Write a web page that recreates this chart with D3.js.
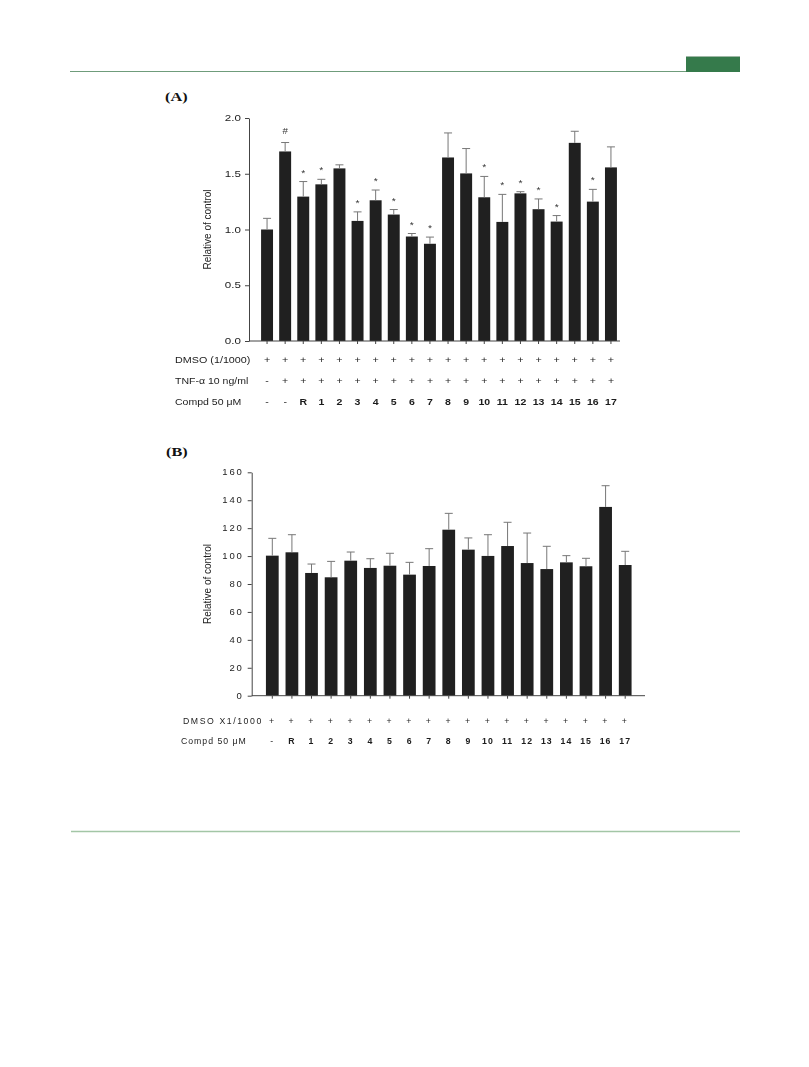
<!DOCTYPE html>
<html>
<head>
<meta charset="utf-8">
<script src="https://cdn.jsdelivr.net/npm/d3@7"></script>
<style>
  body { margin: 0; background: #fff; }
  svg { display: block; }
  .panel { filter: grayscale(100%); }
</style>
</head>
<body>
<script>
// ---- Panel A: TNF-α induced response, relative to control ----
const compdA = ["-", "-", "R", "1", "2", "3", "4", "5", "6", "7", "8", "9", "10", "11", "12", "13", "14", "15", "16", "17"];
const dmsoA  = ["+", "+", "+", "+", "+", "+", "+", "+", "+", "+", "+", "+", "+", "+", "+", "+", "+", "+", "+", "+"];
const tnfA   = ["-", "+", "+", "+", "+", "+", "+", "+", "+", "+", "+", "+", "+", "+", "+", "+", "+", "+", "+", "+"];
const meanA  = [1.00, 1.70, 1.295, 1.405, 1.548, 1.077, 1.262, 1.134, 0.937, 0.872, 1.646, 1.503, 1.289, 1.068, 1.324, 1.182, 1.071, 1.777, 1.250, 1.557];
const upperA = [1.10, 1.78, 1.430, 1.450, 1.580, 1.158, 1.354, 1.179, 0.964, 0.932, 1.866, 1.726, 1.476, 1.315, 1.339, 1.274, 1.125, 1.881, 1.360, 1.741];
const markA  = ["", "#", "*", "*", "", "*", "*", "*", "*", "*", "", "", "*", "*", "*", "*", "*", "", "*", ""];
const ticksA = [0, 0.5, 1.0, 1.5, 2.0];

// ---- Panel B: cell viability, relative to control (%) ----
const compdB = ["-", "R", "1", "2", "3", "4", "5", "6", "7", "8", "9", "10", "11", "12", "13", "14", "15", "16", "17"];
const dmsoB  = ["+", "+", "+", "+", "+", "+", "+", "+", "+", "+", "+", "+", "+", "+", "+", "+", "+", "+", "+"];
const meanB  = [100.3, 102.7, 87.9, 84.8, 96.7, 91.5, 93.1, 86.7, 92.9, 118.9, 104.6, 100.1, 107.2, 95.0, 90.7, 95.5, 92.7, 135.2, 93.6];
const upperB = [112.7, 115.3, 94.3, 96.2, 102.9, 98.1, 102.0, 95.5, 105.3, 130.6, 113.0, 115.3, 124.2, 116.5, 107.0, 100.3, 98.4, 150.4, 103.4];
const ticksB = [0, 20, 40, 60, 80, 100, 120, 140, 160];

const W = 809, H = 1067;
const SANS = "Liberation Sans, Arial, sans-serif";
const SERIF = "Liberation Serif, Times New Roman, serif";
const BAR = "#231f20", AXIS = "#444", TXT = "#1c1c1c", ERR = "#777";

const svg = d3.select("body").append("svg").attr("width", W).attr("height", H);

// page furniture: header rule with tab, footer rule
svg.append("line").attr("x1", 70).attr("x2", 686).attr("y1", 71.5).attr("y2", 71.5)
  .attr("stroke", "#6f9c7b").attr("stroke-width", 1);
svg.append("rect").attr("x", 686).attr("y", 56).attr("width", 54).attr("height", 16)
  .attr("fill", "#357a4b");
svg.append("line").attr("x1", 686).attr("x2", 740).attr("y1", 56.5).attr("y2", 56.5)
  .attr("stroke", "#9fb8a6").attr("stroke-width", 1);
svg.append("line").attr("x1", 71).attr("x2", 740).attr("y1", 831.5).attr("y2", 831.5)
  .attr("stroke", "#a3c6a6").attr("stroke-width", 1.5);

// wide text helper: glyphs stretched horizontally
function wtext(g, x, y, str, o = {}) {
  return g.append("text")
    .attr("transform", `translate(${x},${y}) scale(${o.sx || 1.32},1)`)
    .attr("text-anchor", o.anchor || "start")
    .style("font-family", o.family || SANS)
    .attr("font-size", o.size || 8)
    .attr("font-weight", o.weight || "normal")
    .attr("letter-spacing", o.ls || 0)
    .attr("fill", o.fill || TXT)
    .text(str);
}

function panel(cfg) {
  const g = svg.append("g").attr("class", "panel");
  const x = d3.scaleBand().domain(cfg.compd.map((d, i) => i))
    .range(cfg.xRange).paddingInner(cfg.pad).paddingOuter(cfg.pad / 2);
  const y = d3.scaleLinear().domain([0, cfg.max]).range(cfg.yRange);
  const cx = i => x(i) + x.bandwidth() / 2;

  // bars
  g.selectAll("rect.bar").data(cfg.mean).join("rect")
    .attr("class", "bar")
    .attr("x", (d, i) => x(i)).attr("width", x.bandwidth())
    .attr("y", d => y(d)).attr("height", d => y(0) - y(d))
    .attr("fill", BAR);

  // upper error bars
  const eg = g.append("g").attr("stroke", ERR).attr("stroke-width", 1);
  cfg.mean.forEach((m, i) => {
    eg.append("line").attr("x1", cx(i)).attr("x2", cx(i)).attr("y1", y(m)).attr("y2", y(cfg.upper[i]));
    eg.append("line").attr("x1", cx(i) - 4).attr("x2", cx(i) + 4)
      .attr("y1", y(cfg.upper[i])).attr("y2", y(cfg.upper[i]));
  });

  // significance marks
  if (cfg.marks) {
    cfg.marks.forEach((m, i) => {
      if (!m) return;
      const top = y(cfg.upper[i]);
      wtext(g, cx(i), m === "#" ? top - 9 : top - 6, m,
        { anchor: "middle", size: m === "#" ? 8.5 : 9, sx: 1.15, fill: "#333" });
    });
  }

  // y axis
  const ya = g.append("g").attr("transform", `translate(${cfg.axisX},0)`)
    .call(d3.axisLeft(y).tickValues(cfg.ticks).tickFormat(cfg.fmt).tickSize(4).tickPadding(4).tickSizeOuter(0));
  ya.attr("font-family", null);
  ya.select(".domain").attr("stroke", AXIS);
  ya.selectAll(".tick line").attr("stroke", AXIS);
  ya.selectAll(".tick text")
    .style("font-family", SANS).attr("font-size", 8.3).attr("fill", TXT)
    .attr("letter-spacing", cfg.tickLs || 0)
    .attr("transform", function () {
      const tx = +this.getAttribute("x");
      this.setAttribute("x", 0);
      return `translate(${tx},0) scale(${cfg.tickSx},1)`;
    });

  // x axis baseline and ticks
  g.append("line").attr("x1", cfg.axisX).attr("x2", cfg.axisEnd)
    .attr("y1", y(0)).attr("y2", y(0)).attr("stroke", AXIS);
  const xa = g.append("g").attr("transform", `translate(0,${y(0)})`)
    .call(d3.axisBottom(x).tickSize(3).tickFormat(""));
  xa.select(".domain").remove();
  xa.selectAll(".tick line").attr("stroke", AXIS);

  // y axis title
  g.append("text")
    .attr("transform", `translate(${cfg.titleX},${(cfg.yRange[0] + cfg.yRange[1]) / 2 + cfg.titleDy}) rotate(-90)`)
    .attr("text-anchor", "middle")
    .style("font-family", SANS).attr("font-size", 10).attr("fill", TXT)
    .text("Relative of control");

  // treatment table under the bars
  cfg.rows.forEach(r => {
    wtext(g, r.labelX, r.y, r.label, { sx: r.sx, ls: r.ls || 0, size: r.size });
    r.values.forEach((v, i) => {
      wtext(g, cx(i), r.y, v, {
        anchor: "middle", weight: r.bold && v !== "-" ? "bold" : "normal",
        sx: r.sx, ls: r.ls || 0, size: r.size
      });
    });
  });

  // panel letter
  wtext(svg, cfg.letterX, cfg.letterY, cfg.letter,
    { family: SERIF, size: 12.5, weight: "bold", sx: 1.3, fill: "#111" });
}

panel({
  compd: compdA, mean: meanA, upper: upperA, marks: markA, ticks: ticksA, max: 2,
  fmt: d3.format(".1f"), tickSx: 1.4,
  xRange: [258, 620], pad: 0.34, yRange: [341, 118], axisX: 249, axisEnd: 620,
  titleX: 211, titleDy: 0,
  rows: [
    { label: "DMSO (1/1000)", values: dmsoA, y: 362.5, labelX: 175, sx: 1.3, size: 8.3 },
    { label: "TNF-α 10 ng/ml", values: tnfA, y: 383.5, labelX: 175, sx: 1.27, size: 8.3 },
    { label: "Compd 50 μM", values: compdA, y: 405, labelX: 175, sx: 1.27, size: 8.3, bold: true }
  ],
  letter: "(A)", letterX: 165, letterY: 101
});

panel({
  compd: compdB, mean: meanB, upper: upperB, ticks: ticksB, max: 160,
  fmt: d3.format("d"), tickSx: 1.15, tickLs: 1.6,
  xRange: [262.5, 635], pad: 0.35, yRange: [695.7, 472.3], axisX: 251.7, axisEnd: 645,
  titleX: 210.5, titleDy: 0,
  rows: [
    { label: "DMSO X1/1000", values: dmsoB, y: 723.5, labelX: 183, sx: 1.05, ls: 1.5, size: 8.3 },
    { label: "Compd 50 μM", values: compdB, y: 744, labelX: 181, sx: 1.05, ls: 0.95, size: 8.3, bold: true }
  ],
  letter: "(B)", letterX: 166, letterY: 456
});
</script>
</body>
</html>
